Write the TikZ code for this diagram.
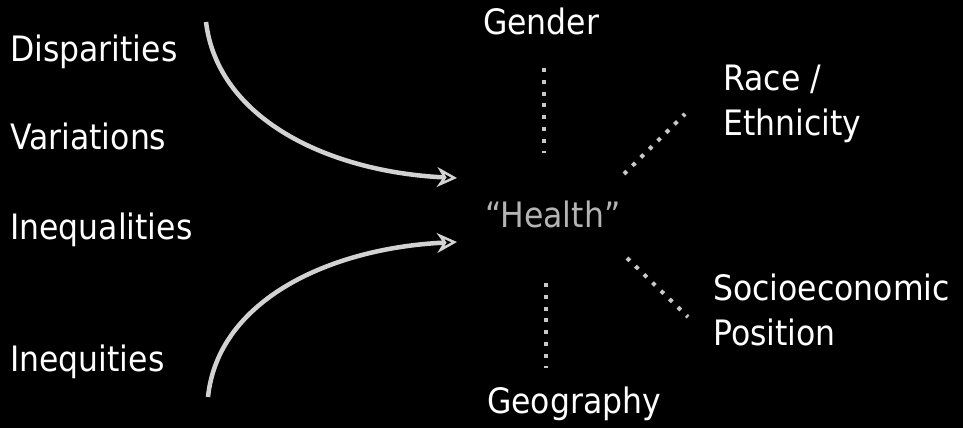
\documentclass[tikz,border=0pt]{standalone}
\usepackage{fontspec}
\setmainfont{DejaVu Sans}[FakeStretch=0.9]
\usetikzlibrary{arrows.meta}
\definecolor{healthgrey}{HTML}{B4B4B4}
\definecolor{dotgrey}{HTML}{C8C8C8}
\definecolor{arrowgrey}{HTML}{D2D2D2}
\begin{document}
\begin{tikzpicture}[x=1pt,y=-1pt,
  lbl/.style={text=white,inner sep=0pt,anchor=base west,align=left,
    font=\fontsize{35}{45}\selectfont},
  dotline/.style={draw=dotgrey,line width=4pt,dash pattern=on 4pt off 7.8pt},
  curvearrow/.style={draw=arrowgrey,line width=4.5pt,
    -{Stealth[open,length=20pt,width=20pt,line width=2.5pt]}}]
\fill[black] (0,0) rectangle (963,428);
\useasboundingbox (0,0) rectangle (963,428);
% left labels
\node[lbl] (disp) at (10,61) {Disparities};
\node[lbl] (vari) at (10,149) {Variations};
\node[lbl] (ineql) at (10,239) {Inequalities};
\node[lbl] (ineqt) at (10,371) {Inequities};
% centre
\node[lbl,text=healthgrey] (health) at (485,227) {“Health”};
\node[lbl] (gender) at (483,35) {Gender};
\node[lbl] (geo) at (487,413) {Geography};
\node[lbl] (race) at (723,135) {Race /\\Ethnicity};
\node[lbl] (socio) at (713,345) {Socioeconomic\\Position};
% dotted connectors
\coordinate (g1) at (544,68);  \coordinate (g2) at (544,153);
\coordinate (y1) at (546,283); \coordinate (y2) at (546,368);
\coordinate (r1) at (624,174); \coordinate (r2) at (685,114);
\coordinate (s1) at (627,258); \coordinate (s2) at (688,317);
\draw[dotline] (g1) -- (g2);
\draw[dotline] (y1) -- (y2);
\draw[dotline] (r1) -- (r2);
\draw[dotline] (s1) -- (s2);
% curved arrows
\coordinate (a1) at (206,22);  \coordinate (a2) at (457,178);
\coordinate (b1) at (208,397); \coordinate (b2) at (457,242);
\draw[curvearrow] (a1) .. controls (218,120) and (330,172) .. (a2);
\draw[curvearrow] (b1) .. controls (218,300) and (330,248) .. (b2);
\end{tikzpicture}
\end{document}
